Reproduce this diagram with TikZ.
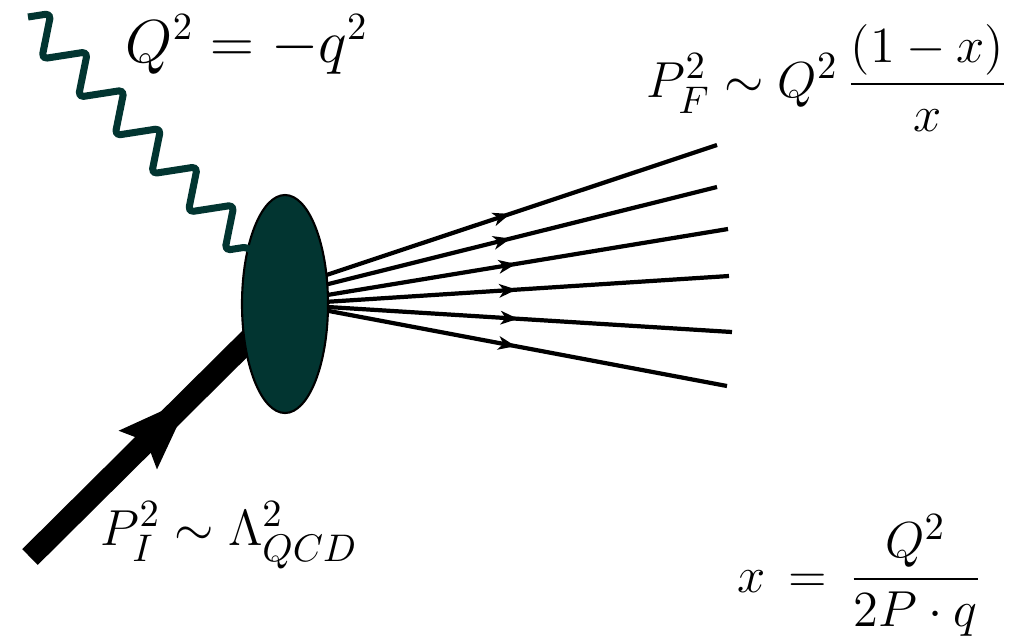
\documentclass[tikz,border=0pt]{standalone}
\usepackage{amsmath,amssymb}
\usepackage{xcolor}
\usetikzlibrary{shapes.geometric,arrows.meta,decorations.pathmorphing,decorations.markings,backgrounds}
\definecolor{blobteal}{HTML}{023531}

\begin{document}
\begin{tikzpicture}[
	photon/.style={draw=blobteal, line width=2pt, line join=round, rounded corners=1.5pt,
		decorate, decoration={zigzag, segment length=0.53cm, amplitude=0.19cm}},
	fermion/.style={line width=1.2pt, postaction={decorate},
		decoration={markings, mark=at position 0.47 with {\arrow{Stealth[length=5pt,width=4pt,inset=1.5pt,line width=0pt]}}}},
	proton/.style={line width=6.3pt, postaction={decorate},
		decoration={markings, mark=at position 0.63 with {\arrow{Stealth[length=21pt,width=15.5pt,inset=3.5pt,line width=0pt]}}}},
	blob/.style={draw, ellipse, fill=blobteal, line width=0.6pt, minimum width=0.86cm,
		minimum height=2.18cm, inner sep=0pt, outer sep=0pt},
	lbl/.style={anchor=base west, inner sep=0pt, font=\fontsize{#1}{19}\selectfont},
	lbl/.default=15.8
	]
			\useasboundingbox (0,0) rectangle (10.36,-6.43);
		
			\node[blob] (blob) at (2.85,-3.04) {};
		
			\coordinate (gin) at (0.28,-0.17);
			\coordinate (pin) at (0.30,-5.57);
			\coordinate (f1) at (7.17,-1.45);
			\coordinate (f2) at (7.17,-1.87);
			\coordinate (f3) at (7.28,-2.29);
			\coordinate (f4) at (7.29,-2.76);
			\coordinate (f5) at (7.32,-3.32);
			\coordinate (f6) at (7.27,-3.86);
		
			\begin{scope}[on background layer]
				\draw[proton] (pin) -- (blob.center);
			\end{scope}
			\draw[photon] (gin) -- (blob.123);
			\foreach \a/\e in {35/f1, 25/f2, 12/f3, 3/f4, -4/f5, -9/f6}
				\draw[fermion] (blob.\a) -- (\e);
		
			\node[lbl=16.2] (qsq) at (1.25,-0.62) {$Q^2 = -q^2$};
			\node[lbl] (pf) at (6.46,-0.97) {$P_F^2 \sim Q^2\,\dfrac{(1-x)}{x}$};
			\node[lbl] (pi) at (1.00,-5.45) {$P_I^2 \sim \Lambda_{QCD}^2$};
			\node[lbl=15.3] (xb) at (7.37,-5.92) {$x \,=\, \dfrac{Q^2}{2P\cdot q}$};
		\end{tikzpicture}
\end{document}
